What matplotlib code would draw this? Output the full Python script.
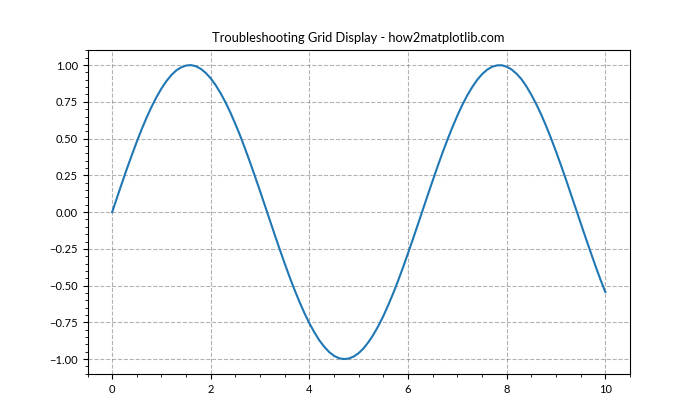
import matplotlib
matplotlib.use('Agg')
import matplotlib.pyplot as plt

# valores (x de 0 a 10, paso 0.1)
x = [i / 10 for i in range(101)]
y = [0.000, 0.100, 0.199, 0.296, 0.389, 0.479, 0.565, 0.644, 0.717, 0.783,
     0.841, 0.891, 0.932, 0.964, 0.985, 0.997, 1.000, 0.992, 0.974, 0.946,
     0.909, 0.863, 0.808, 0.746, 0.675, 0.598, 0.516, 0.427, 0.335, 0.239,
     0.141, 0.042, -0.058, -0.158, -0.256, -0.351, -0.443, -0.530, -0.612, -0.688,
     -0.757, -0.818, -0.872, -0.916, -0.952, -0.978, -0.994, -1.000, -0.996, -0.982,
     -0.959, -0.926, -0.883, -0.832, -0.773, -0.706, -0.631, -0.551, -0.465, -0.374,
     -0.279, -0.182, -0.083, 0.017, 0.117, 0.215, 0.312, 0.405, 0.494, 0.578,
     0.657, 0.729, 0.794, 0.850, 0.899, 0.938, 0.968, 0.988, 0.998, 0.999,
     0.989, 0.970, 0.941, 0.904, 0.855, 0.798, 0.734, 0.663, 0.585, 0.501,
     0.412, 0.319, 0.223, 0.124, 0.025, -0.075, -0.174, -0.271, -0.366, -0.458,
     -0.544]

plt.rcParams['font.family'] = ['Lato', 'DejaVu Sans']

fig, ax = plt.subplots(figsize=(7, 4.2), dpi=100)
ax.plot(x, y, color='#1f77b4', lw=1.5)
ax.set_title('Troubleshooting Grid Display - how2matplotlib.com', fontsize=9.3)
ax.tick_params(labelsize=8)
ax.minorticks_on()
ax.grid(True, which='major', linestyle='--', color='gray', alpha=0.6, lw=0.8)

fig.savefig('out.png', dpi=100)
